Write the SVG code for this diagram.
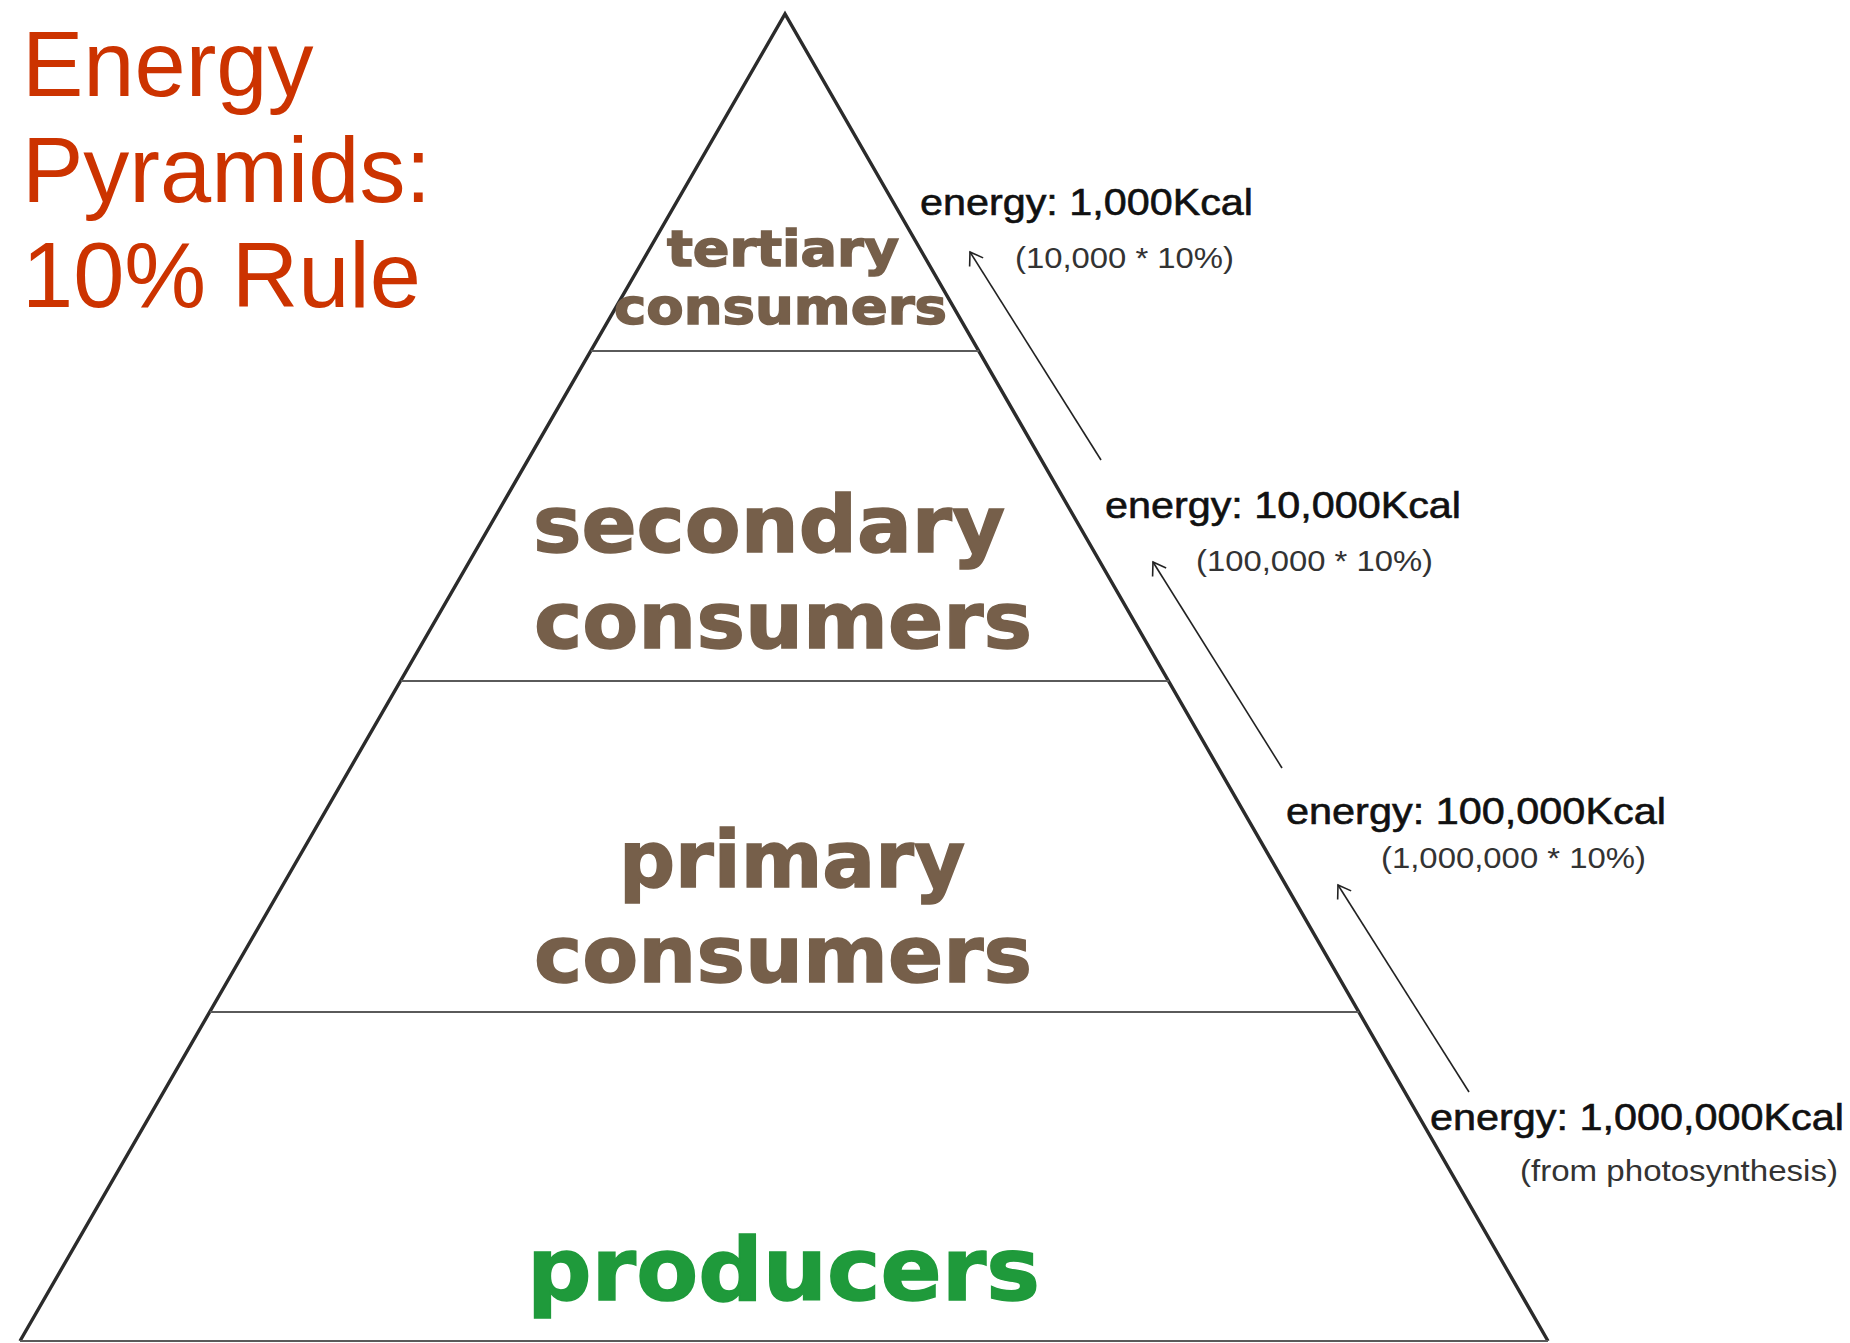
<svg xmlns="http://www.w3.org/2000/svg" width="1850" height="1343" viewBox="0 0 1850 1343">
<defs>
<style>
.title{font-family:"Liberation Sans",Arial,sans-serif;font-size:92px;fill:#cc3300}
.lvl{font-family:"DejaVu Sans","Liberation Sans",sans-serif;font-weight:bold;fill:#765f4a;stroke:#765f4a;stroke-width:1.5}
.prod{fill:#1f9a3b;stroke:#1f9a3b}
.side{fill:none;stroke:#2b2b2b;stroke-width:3.4;stroke-linejoin:miter}
.div{stroke:#5a5a5a;stroke-width:2}
.en{font-family:"Liberation Sans",Arial,sans-serif;font-size:37px;fill:#111;stroke:#111;stroke-width:0.6}
.sub{font-family:"Liberation Sans",Arial,sans-serif;font-size:29px;fill:#333}
.arr{stroke:#222;stroke-width:1.6;fill:none;marker-end:url(#head)}
</style>
<marker id="head" viewBox="0 -10 20 20" refX="15" refY="0" markerWidth="20" markerHeight="20" markerUnits="userSpaceOnUse" orient="auto">
<path d="M3,-8 L15,0 L3,8" fill="none" stroke="#222" stroke-width="1.6"/>
</marker>
</defs>
<rect width="1850" height="1343" fill="#ffffff"/>

<g id="title">
<text class="title" x="22" y="96">Energy</text>
<text class="title" x="22" y="202">Pyramids:</text>
<text class="title" x="22" y="307">10% Rule</text>
</g>

<g id="pyramid-outline">
<polyline class="side" points="20,1341 785,14 1548,1341"/>
<line class="div" x1="20" y1="1341" x2="1548" y2="1341"/>
<line class="div" x1="591" y1="351" x2="979" y2="351"/>
<line class="div" x1="401" y1="681" x2="1169" y2="681"/>
<line class="div" x1="210" y1="1012" x2="1359" y2="1012"/>
</g>

<g id="tertiary">
<text class="lvl" x="667" y="266" font-size="49" textLength="232" lengthAdjust="spacingAndGlyphs">tertiary</text>
<text class="lvl" x="614" y="324" font-size="49" textLength="333" lengthAdjust="spacingAndGlyphs">consumers</text>
</g>

<g id="secondary">
<text class="lvl" x="533" y="552" font-size="78" textLength="472" lengthAdjust="spacingAndGlyphs">secondary</text>
<text class="lvl" x="534" y="648" font-size="78" textLength="498" lengthAdjust="spacingAndGlyphs">consumers</text>
</g>

<g id="primary">
<text class="lvl" x="619" y="887" font-size="78" textLength="346" lengthAdjust="spacingAndGlyphs">primary</text>
<text class="lvl" x="534" y="982" font-size="78" textLength="498" lengthAdjust="spacingAndGlyphs">consumers</text>
</g>

<g id="producers">
<text class="lvl prod" x="527" y="1300" font-size="88" textLength="513" lengthAdjust="spacingAndGlyphs">producers</text>
</g>

<g id="energy-tertiary">
<text class="en" x="920" y="215" textLength="333" lengthAdjust="spacingAndGlyphs">energy: 1,000Kcal</text>
<text class="sub" x="1015" y="268" textLength="219" lengthAdjust="spacingAndGlyphs">(10,000 * 10%)</text>
</g>

<g id="energy-secondary">
<text class="en" x="1105" y="518" textLength="356" lengthAdjust="spacingAndGlyphs">energy: 10,000Kcal</text>
<text class="sub" x="1196" y="571" textLength="237" lengthAdjust="spacingAndGlyphs">(100,000 * 10%)</text>
</g>

<g id="energy-primary">
<text class="en" x="1286" y="824" textLength="380" lengthAdjust="spacingAndGlyphs">energy: 100,000Kcal</text>
<text class="sub" x="1381" y="868" textLength="265" lengthAdjust="spacingAndGlyphs">(1,000,000 * 10%)</text>
</g>

<g id="energy-producers">
<text class="en" x="1430" y="1130" textLength="414" lengthAdjust="spacingAndGlyphs">energy: 1,000,000Kcal</text>
<text class="sub" x="1520" y="1181" textLength="318" lengthAdjust="spacingAndGlyphs">(from photosynthesis)</text>
</g>

<g id="connectors">
<line class="arr" x1="1101" y1="460" x2="970" y2="252"/>
<line class="arr" x1="1282" y1="768" x2="1153" y2="562"/>
<line class="arr" x1="1469" y1="1092" x2="1338" y2="885"/>
</g>
</svg>
